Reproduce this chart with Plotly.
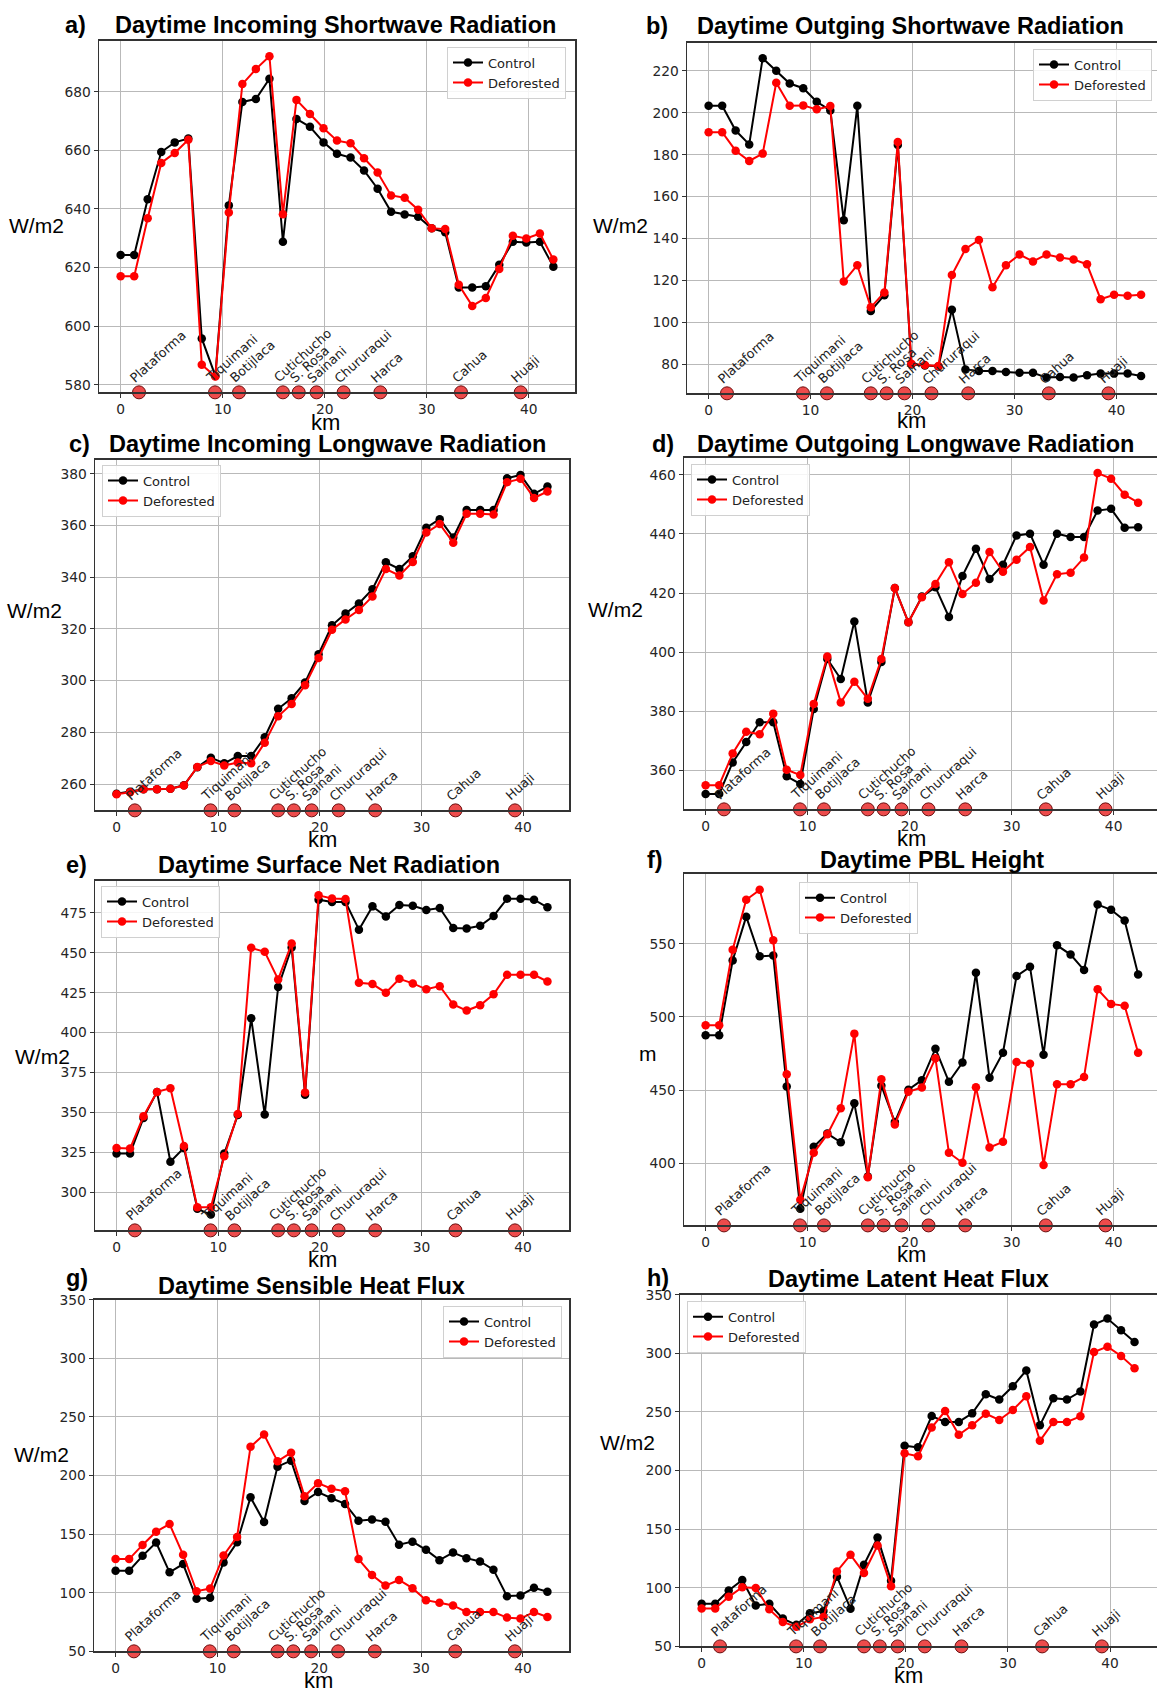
import plotly.graph_objects as go

W, H = 1157, 1697

# ---------------- data ----------------
km = [0, 1.33, 2.65, 3.98, 5.3, 6.63, 7.95, 9.28, 10.6, 11.93, 13.25, 14.58, 15.9, 17.23,
      18.55, 19.88, 21.2, 22.53, 23.85, 25.18, 26.5, 27.83, 29.15, 30.48, 31.8, 33.13,
      34.45, 35.78, 37.1, 38.43, 39.75, 41.08, 42.4]

stations = ["Plataforma", "Tiquimani", "Botijlaca", "Cutichucho", "S. Rosa", "Sainani",
            "Chururaqui", "Harca", "Cahua", "Huaji"]
station_km = [1.8, 9.25, 11.6, 15.9, 17.45, 19.2, 21.85, 25.45, 33.35, 39.2]

swin_ctrl = [624.3, 624.3, 643.3, 659.4, 662.7, 664.0, 595.8, 583.0, 641.2, 676.5, 677.5, 684.4,
             628.8, 670.7, 668.0, 662.7, 658.8, 657.5, 653.1, 646.9, 639.0, 638.1, 637.3, 633.4,
             632.0, 613.2, 613.2, 613.6, 620.9, 628.8, 628.5, 628.8, 620.3]
swin_defo = [617.0, 617.0, 636.8, 655.7, 659.1, 663.6, 586.8, 582.8, 638.8, 682.6, 687.7, 692.1,
             638.2, 677.2, 672.4, 667.5, 663.3, 662.4, 657.3, 652.4, 644.6, 643.8, 639.7, 633.4,
             633.1, 614.1, 606.9, 609.6, 619.5, 630.8, 629.9, 631.6, 622.7]

swout_ctrl = [203.3, 203.3, 191.5, 184.9, 226.0, 220.0, 213.9, 211.7, 205.2, 201.1, 148.7, 203.3,
              105.5, 113.0, 184.6, 80.0, 79.5, 79.0, 106.1, 77.6, 76.8, 76.8, 76.4, 76.0,
              76.0, 73.7, 74.0, 73.7, 74.8, 75.6, 75.6, 75.7, 74.5]
swout_defo = [190.7, 190.7, 181.9, 177.0, 180.5, 214.3, 203.3, 203.5, 201.6, 203.2, 119.5, 127.3,
              107.2, 114.3, 186.0, 80.3, 79.7, 79.2, 122.6, 135.0, 139.3, 116.8, 127.3, 132.4,
              129.1, 132.4, 131.0, 130.0, 127.7, 111.1, 113.2, 112.7, 113.2]

lwin_ctrl = [256.2, 257.0, 258.0, 258.0, 258.2, 259.5, 266.5, 270.2, 268.0, 270.8, 270.8, 278.1,
             289.1, 293.2, 299.3, 310.2, 321.4, 326.0, 329.9, 335.4, 345.8, 343.2, 348.1, 359.2,
             362.5, 355.4, 366.0, 366.0, 366.0, 378.3, 379.6, 372.3, 375.1]
lwin_defo = [256.0, 256.8, 258.0, 258.0, 258.2, 259.4, 266.6, 268.9, 267.2, 268.3, 268.0, 276.0,
             286.2, 291.0, 298.2, 308.8, 319.7, 323.7, 327.3, 332.6, 343.2, 340.7, 345.9, 357.3,
             360.6, 353.4, 364.6, 364.6, 364.3, 376.8, 378.1, 370.7, 373.2]

lwout_ctrl = [352.0, 352.0, 362.7, 369.6, 376.3, 376.3, 358.0, 355.4, 380.8, 397.7, 390.9, 410.4,
              383.0, 396.7, 421.7, 410.1, 418.8, 422.0, 411.9, 425.8, 435.0, 424.8, 429.6, 439.5,
              440.1, 429.6, 440.1, 439.0, 439.0, 447.9, 448.5, 442.1, 442.3]
lwout_defo = [355.0, 355.0, 365.7, 373.1, 372.2, 379.2, 360.2, 358.4, 382.5, 398.5, 383.0, 390.0,
              384.2, 397.7, 421.7, 410.1, 418.6, 423.1, 430.4, 419.7, 423.5, 433.9, 427.2, 431.3,
              435.6, 417.5, 426.4, 426.9, 432.0, 460.6, 458.7, 453.3, 450.6]

rnet_ctrl = [324.2, 324.2, 346.5, 362.8, 319.0, 327.7, 289.5, 285.9, 324.2, 348.3, 408.9, 348.6,
             428.5, 453.3, 361.0, 483.3, 481.8, 481.8, 464.5, 479.1, 472.7, 480.0, 479.5, 476.9,
             478.1, 465.5, 465.3, 466.9, 473.1, 483.9, 483.9, 483.3, 478.5]
rnet_defo = [327.7, 327.3, 347.5, 362.8, 365.1, 328.9, 290.5, 290.5, 322.5, 349.0, 453.1, 450.6,
             433.3, 455.8, 362.4, 486.0, 484.1, 483.7, 431.2, 430.4, 425.0, 433.7, 430.8, 427.1,
             429.1, 417.6, 413.8, 417.1, 424.0, 436.2, 436.2, 436.2, 432.0]

pbl_ctrl = [487.5, 487.5, 538.5, 568.5, 541.4, 541.9, 452.5, 368.9, 411.3, 420.3, 414.4, 441.0,
            391.0, 453.0, 428.2, 450.3, 456.8, 478.3, 455.7, 468.8, 530.1, 458.4, 475.6, 527.9,
            534.2, 474.2, 548.9, 542.6, 532.0, 576.8, 573.2, 565.8, 529.0]
pbl_defo = [494.3, 494.3, 545.9, 580.0, 586.8, 552.3, 460.9, 375.2, 407.2, 419.8, 437.7, 488.6,
            390.5, 457.5, 426.6, 448.9, 451.8, 471.7, 407.2, 400.4, 451.9, 410.8, 414.7, 469.2,
            468.1, 398.9, 454.1, 454.1, 459.0, 518.9, 508.9, 507.6, 475.6]

shf_ctrl = [118.8, 118.8, 131.5, 142.8, 117.4, 124.5, 94.9, 95.7, 125.9, 143.1, 181.4, 160.3,
            207.6, 212.7, 178.3, 185.9, 180.6, 175.8, 161.4, 162.5, 160.5, 141.0, 143.6, 136.6,
            127.8, 134.3, 129.5, 126.7, 119.7, 97.1, 97.7, 104.2, 100.8]
shf_defo = [128.7, 128.7, 140.8, 152.1, 158.6, 132.4, 101.3, 103.6, 131.8, 147.6, 224.5, 235.0,
            212.1, 219.5, 182.3, 193.5, 188.7, 186.5, 128.7, 115.2, 106.1, 110.9, 103.9, 93.7,
            91.5, 89.2, 83.6, 83.6, 83.6, 78.8, 78.0, 83.6, 79.3]

lhf_ctrl = [86.4, 86.4, 97.7, 106.7, 85.0, 86.4, 73.7, 68.4, 78.2, 80.2, 109.5, 82.2,
            119.7, 142.8, 106.1, 221.2, 219.8, 246.5, 241.5, 241.5, 248.8, 265.1, 260.6, 271.9,
            285.4, 238.6, 261.8, 260.6, 267.4, 324.6, 329.7, 319.8, 309.7]
lhf_defo = [82.4, 82.4, 92.3, 100.5, 99.9, 81.6, 70.9, 66.7, 73.1, 75.1, 114.0, 128.1,
            112.6, 136.0, 101.3, 214.7, 212.2, 236.7, 250.8, 230.5, 238.6, 248.5, 243.2, 251.6,
            263.4, 225.4, 241.5, 241.5, 246.3, 301.2, 305.7, 297.8, 287.4]

titles = ["Daytime Incoming Shortwave Radiation", "Daytime Outging Shortwave Radiation",
          "Daytime Incoming Longwave Radiation", "Daytime Outgoing Longwave Radiation",
          "Daytime Surface Net Radiation", "Daytime PBL Height",
          "Daytime Sensible Heat Flux", "Daytime Latent Heat Flux"]
letters = ["a)", "b)", "c)", "d)", "e)", "f)", "g)", "h)"]
ylabels = ["W/m2", "W/m2", "W/m2", "W/m2", "W/m2", "m", "W/m2", "W/m2"]
series = [(swin_ctrl, swin_defo), (swout_ctrl, swout_defo), (lwin_ctrl, lwin_defo),
          (lwout_ctrl, lwout_defo), (rnet_ctrl, rnet_defo), (pbl_ctrl, pbl_defo),
          (shf_ctrl, shf_defo), (lhf_ctrl, lhf_defo)]
xticks = [0, 10, 20, 30, 40]
yticks = [[580, 600, 620, 640, 660, 680],
          [80, 100, 120, 140, 160, 180, 200, 220],
          [260, 280, 300, 320, 340, 360, 380],
          [360, 380, 400, 420, 440, 460],
          [300, 325, 350, 375, 400, 425, 450, 475],
          [400, 450, 500, 550],
          [50, 100, 150, 200, 250, 300, 350],
          [50, 100, 150, 200, 250, 300, 350]]

# ---------------- layout (pixel geometry) ----------------
boxes = [
    (99, 575, 33, 388, [-2.12, 44.52], [577.4, 697.4]),
    (687, 1157, 35, 389, [-2.12, 43.96], [66.2, 233.4]),
    (95, 569, 456, 810, [-2.12, 44.52], [249.8, 385.5]),
    (684, 1157, 454, 809, [-2.12, 44.25], [346.8, 465.8]),
    (95, 569, 881, 1234, [-2.12, 44.52], [276.0, 495.2]),
    (684, 1157, 874, 1229, [-2.12, 44.25], [357.6, 597.8]),
    (94, 569, 1304, 1659, [-2.12, 44.52], [50, 350]),
    (680, 1157, 1299, 1654, [-2.12, 44.6], [50, 350]),
]
title_pos = [(335, 17), (910, 18), (327, 440), (915, 440), (329, 865), (932, 860), (311, 1290), (908, 1283)]
letter_pos = [(75, 17), (657, 18), (79, 440), (663, 440), (76, 865), (655, 860), (77, 1282), (658, 1282)]
ylab_pos = [(36, 220), (620, 220), (34, 608), (615, 607), (42, 1058), (648, 1055), (41, 1460), (627, 1448)]
xlab_pos = [(326, 418), (911, 416), (322, 839), (911, 838), (322, 1263), (911, 1258), (318, 1688), (908, 1683)]
leg_pos = [("right", 566, 39), ("right", 1152, 41), ("left", 102, 461), ("left", 691, 460),
           ("left", 101, 886), ("left", 799, 882), ("right", 562, 1310), ("left", 687, 1305)]


def px(x):
    return x / W


def py(y):
    return 1 - y / H


fig = go.Figure()
annotations = []
layout = dict(width=W, height=H, margin=dict(l=0, r=0, t=0, b=0),
              paper_bgcolor="white", plot_bgcolor="white", showlegend=True)

tickfont = dict(family="DejaVu Sans", size=13.8, color="#262626")

for i in range(8):
    n = i + 1
    xa = "x" if n == 1 else f"x{n}"
    ya = "y" if n == 1 else f"y{n}"
    lg = "legend" if n == 1 else f"legend{n}"
    l, r, t, b, xr, yr = boxes[i]
    right_col = (i % 2 == 1)
    layout["xaxis" if n == 1 else f"xaxis{n}"] = dict(
        domain=[px(l), min(1.0, px(r))], range=xr, anchor=ya,
        tickvals=xticks, ticks="outside", ticklen=4, tickcolor="#333", tickwidth=1,
        showgrid=True, gridcolor="#b9b9b9", gridwidth=1, zeroline=False,
        showline=True, linecolor="#333", linewidth=1.5, mirror=True,
        tickfont=tickfont, fixedrange=True)
    layout["yaxis" if n == 1 else f"yaxis{n}"] = dict(
        domain=[py(b), py(t)], range=yr, anchor=xa,
        tickvals=yticks[i], ticks="outside", ticklen=4, tickcolor="#333", tickwidth=1,
        showgrid=True, gridcolor="#b9b9b9", gridwidth=1, zeroline=False,
        showline=True, linecolor="#333", linewidth=1.5, mirror=(not right_col),
        tickfont=tickfont, fixedrange=True)

    ctrl, defo = series[i]
    fig.add_trace(go.Scatter(x=km, y=ctrl, mode="lines+markers", name="Control",
                             line=dict(color="black", width=2),
                             marker=dict(color="black", size=8.5),
                             xaxis=xa, yaxis=ya, legend=lg))
    fig.add_trace(go.Scatter(x=km, y=defo, mode="lines+markers", name="Deforested",
                             line=dict(color="red", width=2),
                             marker=dict(color="red", size=8.5),
                             xaxis=xa, yaxis=ya, legend=lg))
    fig.add_trace(go.Scatter(x=station_km, y=[yr[0]] * len(station_km), mode="markers",
                             showlegend=False, cliponaxis=False,
                             marker=dict(color="rgba(232,30,30,0.8)", size=13,
                                         line=dict(color="#6b1010", width=1)),
                             xaxis=xa, yaxis=ya))

    side, lx, ltop = leg_pos[i]
    layout[lg] = dict(x=px(lx), y=py(ltop), xanchor=side, yanchor="top",
                      xref="paper", yref="paper",
                      bgcolor="rgba(255,255,255,0.85)", bordercolor="#d0d0d0", borderwidth=1,
                      font=dict(family="DejaVu Sans", size=13, color="#222"),
                      itemwidth=30, tracegroupgap=0)

    for s, sk in zip(stations, station_km):
        annotations.append(dict(x=sk, y=yr[0], xref=xa, yref=ya, text=s, showarrow=False,
                                textangle=-42, xanchor="left", yanchor="bottom",
                                xshift=-15, yshift=4,
                                font=dict(family="DejaVu Sans", size=12.8, color="#222")))
    tx, tyy = title_pos[i]
    annotations.append(dict(x=px(tx), y=py(tyy), xref="paper", yref="paper",
                            text=f"<b>{titles[i]}</b>", showarrow=False,
                            xanchor="center", yanchor="middle",
                            font=dict(family="Liberation Sans", size=23.5, color="black")))
    lx2, ly2 = letter_pos[i]
    annotations.append(dict(x=px(lx2), y=py(ly2), xref="paper", yref="paper",
                            text=f"<b>{letters[i]}</b>", showarrow=False,
                            xanchor="center", yanchor="middle",
                            font=dict(family="Liberation Sans", size=23.5, color="black")))
    yx, yy = ylab_pos[i]
    annotations.append(dict(x=px(yx), y=py(yy), xref="paper", yref="paper",
                            text=ylabels[i], showarrow=False,
                            xanchor="center", yanchor="middle",
                            font=dict(family="Liberation Sans", size=21, color="black")))
    kx, ky = xlab_pos[i]
    annotations.append(dict(x=px(kx), y=py(ky), xref="paper", yref="paper",
                            text="km", showarrow=False,
                            xanchor="center", yanchor="middle",
                            font=dict(family="Liberation Sans", size=22, color="black")))

layout["annotations"] = annotations
fig.update_layout(**layout)

post = ("document.body.style.margin='0px';document.body.style.overflow='hidden';"
        "var d=document.getElementsByClassName('plotly-graph-div')[0];"
        "d.style.position='absolute';d.style.top='0px';d.style.left='0px';")
fig.write_html("out.html", config={"displayModeBar": False, "staticPlot": True},
               post_script=post)
